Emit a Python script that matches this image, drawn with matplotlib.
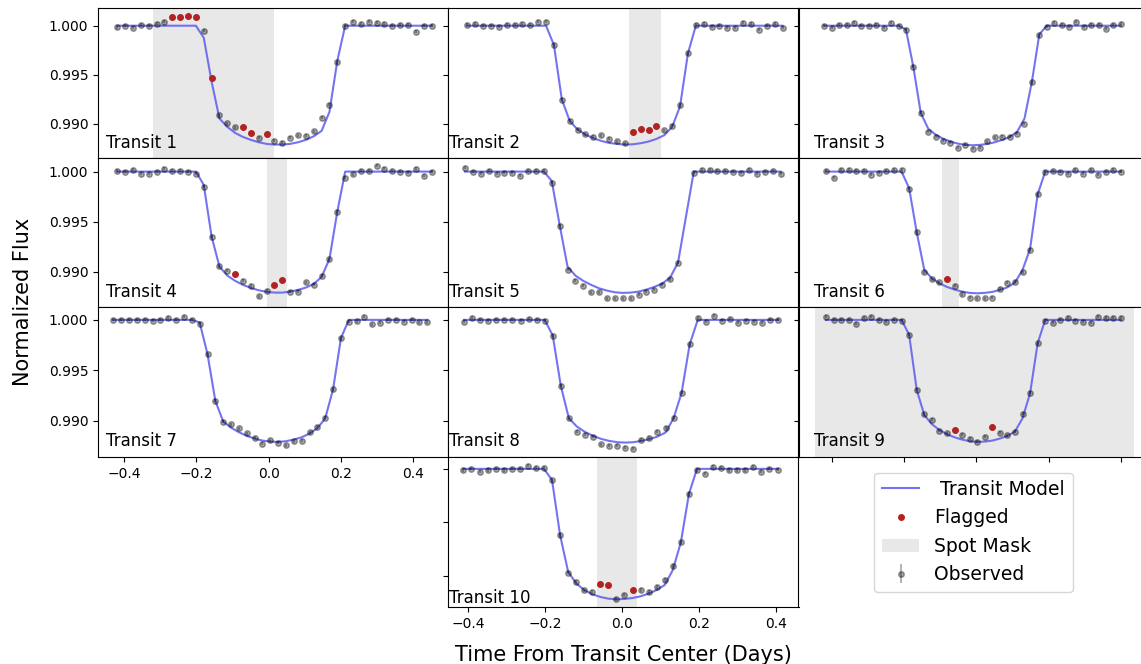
import numpy as np
import matplotlib
matplotlib.use('Agg')
import matplotlib.pyplot as plt

# time grids (days from transit centre), read from first/last point of each panel
time1 = np.linspace(-0.4185, 0.451, 41)
time2 = np.linspace(-0.403, 0.418, 41)
time3 = np.linspace(-0.421, 0.400, 41)
time4 = np.linspace(-0.4185, 0.451, 41)
time5 = np.delete(np.linspace(-0.409, 0.413, 41), 28)
time6 = np.linspace(-0.4166, 0.400, 40)
time7 = np.linspace(-0.4296, 0.439, 41)
time8 = np.linspace(-0.411, 0.407, 40)
time9 = np.linspace(-0.4166, 0.400, 40)
time10 = np.linspace(-0.413, 0.405, 40)

flux1 = [0.99983, 1.0000, 0.9998, 1.0001, 1.0000, 1.0002, 1.0004, 1.0009, 1.0009, 1.0010, 1.0009,
         0.9995, 0.99461, 0.99085, 0.99003, 0.98962, 0.98962, 0.98908, 0.98857, 0.98894, 0.98826,
         0.98802, 0.98857, 0.98881, 0.98874, 0.98922, 0.99058, 0.99191, 0.99628, 1.0000, 1.0004,
         1.0002, 1.0004, 1.0003, 1.0002, 1.0000, 1.0001, 1.0001, 0.9994, 1.0000, 1.0000]
model1 = [1.0, 1.0, 1.0, 1.0, 1.0, 1.0, 1.0, 1.0, 1.0, 1.0, 1.0,
          0.99877, 0.99427, 0.99051, 0.98966, 0.98904, 0.98863, 0.98833, 0.98809, 0.98792, 0.98785,
          0.98785, 0.98792, 0.98809, 0.98833, 0.98870, 0.98925, 0.99120, 0.99642, 1.0, 1.0,
          1.0, 1.0, 1.0, 1.0, 1.0, 1.0, 1.0, 1.0, 1.0, 1.0]

flux2 = [1.0001, 1.0002, 1.0000, 1.0000, 0.9999, 1.0001, 1.0001, 1.0002, 1.0001, 1.0004, 1.0004,
         0.99805, 0.99242, 0.99027, 0.98935, 0.98891, 0.98863, 0.98881, 0.98846, 0.98819, 0.98799,
         0.98918, 0.98945, 0.98932, 0.98973, 0.98932, 0.98980, 0.99188, 0.99717, 1.0001, 1.0002,
         0.9999, 1.0000, 0.9998, 0.9998, 1.0003, 1.0002, 0.9996, 1.0000, 1.0002, 0.9998]
model2 = [1.0, 1.0, 1.0, 1.0, 1.0, 1.0, 1.0, 1.0, 1.0, 1.0, 1.0,
          0.99802, 0.99246, 0.99027, 0.98939, 0.98887, 0.98850, 0.98823, 0.98802, 0.98792, 0.98785,
          0.98788, 0.98799, 0.98816, 0.98843, 0.98881, 0.98966, 0.99177, 0.99717, 1.0, 1.0,
          1.0, 1.0, 1.0, 1.0, 1.0, 1.0, 1.0, 1.0, 1.0, 1.0]

flux3 = [1.0000, 0.9998, 1.0001, 1.0001, 1.0003, 1.0000, 1.0000, 1.0001, 0.9998, 1.0003, 1.0000,
         0.9996, 0.99580, 0.99109, 0.98915, 0.98863, 0.98823, 0.98802, 0.98751, 0.98785, 0.98741,
         0.98751, 0.98819, 0.98860, 0.98863, 0.98863, 0.98894, 0.98997, 0.99420, 0.99904, 0.9999,
         1.0003, 1.0001, 0.9999, 1.0004, 0.9999, 1.0001, 1.0001, 0.9997, 1.0001, 1.0002]
model3 = [1.0, 1.0, 1.0, 1.0, 1.0, 1.0, 1.0, 1.0, 1.0, 1.0, 1.0,
          0.99962, 0.99580, 0.99109, 0.98949, 0.98887, 0.98846, 0.98816, 0.98795, 0.98782, 0.98778,
          0.98782, 0.98792, 0.98809, 0.98833, 0.98863, 0.98915, 0.99051, 0.99427, 0.99911, 1.0,
          1.0, 1.0, 1.0, 1.0, 1.0, 1.0, 1.0, 1.0, 1.0, 1.0]

flux4 = [1.0001, 1.0000, 1.0002, 0.9998, 0.9998, 1.0000, 1.0003, 1.0001, 1.0001, 1.0000, 0.9998,
         0.9985, 0.99347, 0.99053, 0.99010, 0.98973, 0.98907, 0.98857, 0.98753, 0.98810, 0.98870,
         0.98917, 0.98800, 0.98800, 0.98893, 0.98867, 0.98960, 0.99123, 0.99600, 0.99940, 0.99973,
         1.0001, 1.0001, 1.0006, 1.0003, 1.0001, 1.0000, 0.9999, 1.0003, 0.9996, 1.0000]
model4 = [1.0, 1.0, 1.0, 1.0, 1.0, 1.0, 1.0, 1.0, 1.0, 1.0, 1.0,
          0.99867, 0.99350, 0.99050, 0.98960, 0.98907, 0.98867, 0.98837, 0.98813, 0.98797, 0.98790,
          0.98790, 0.98800, 0.98817, 0.98840, 0.98877, 0.98947, 0.99127, 0.99600, 1.0, 1.0,
          1.0, 1.0, 1.0, 1.0, 1.0, 1.0, 1.0, 1.0, 1.0, 1.0]

flux5 = [1.0004, 1.0000, 0.9998, 1.0001, 0.9998, 0.9999, 0.9999, 0.9996, 1.0001, 1.0001, 1.0001,
         0.9989, 0.99457, 0.99017, 0.98907, 0.98857, 0.98793, 0.98793, 0.98733, 0.98733, 0.98733,
         0.98733, 0.98767, 0.98800, 0.98817, 0.98867, 0.98923, 0.99090, 0.9999, 1.0002,
         1.0002, 1.0001, 1.0001, 1.0000, 0.9999, 1.0002, 0.9998, 1.0000, 1.0001, 0.9998]
model5 = [1.0, 1.0, 1.0, 1.0, 1.0, 1.0, 1.0, 1.0, 1.0, 1.0, 1.0,
          0.99907, 0.99467, 0.99050, 0.98960, 0.98907, 0.98867, 0.98833, 0.98810, 0.98793, 0.98787,
          0.98790, 0.98800, 0.98820, 0.98847, 0.98880, 0.98940, 0.99090, 1.0, 1.0,
          1.0, 1.0, 1.0, 1.0, 1.0, 1.0, 1.0, 1.0, 1.0, 1.0]

flux6 = [1.0001, 0.9994, 1.0002, 1.0002, 1.0001, 1.0001, 0.9997, 0.9999, 1.0001, 1.0002, 1.0002,
         0.9983, 0.99393, 0.98993, 0.98923, 0.98893, 0.98927, 0.98860, 0.98773, 0.98740, 0.98733,
         0.98733, 0.98740, 0.98827, 0.98887, 0.98897, 0.98993, 0.99217, 0.99773, 1.0000, 1.0001,
         1.0000, 0.9998, 1.0002, 0.9998, 1.0002, 0.9997, 1.0000, 1.0002, 1.0000]
model6 = [1.0, 1.0, 1.0, 1.0, 1.0, 1.0, 1.0, 1.0, 1.0, 1.0, 1.0,
          0.99833, 0.99393, 0.99017, 0.98933, 0.98883, 0.98847, 0.98820, 0.98800, 0.98787, 0.98783,
          0.98787, 0.98797, 0.98817, 0.98843, 0.98890, 0.99017, 0.99227, 0.99773, 1.0, 1.0,
          1.0, 1.0, 1.0, 1.0, 1.0, 1.0, 1.0, 1.0, 1.0]

flux7 = [1.0000, 1.0000, 1.0000, 1.0000, 1.0000, 0.9999, 1.0000, 1.0002, 1.0000, 1.0003, 1.0000,
         0.99964, 0.99659, 0.99195, 0.98990, 0.98964, 0.98924, 0.98874, 0.98831, 0.98768, 0.98805,
         0.98781, 0.98755, 0.98795, 0.98801, 0.98884, 0.98937, 0.99030, 0.99311, 0.99818, 0.99983,
         0.99987, 1.0003, 0.99957, 0.99974, 1.0000, 1.0000, 0.99983, 1.0000, 0.99977, 0.99977]
model7 = [1.0, 1.0, 1.0, 1.0, 1.0, 1.0, 1.0, 1.0, 1.0, 1.0, 1.0,
          0.99975, 0.99659, 0.99195, 0.98990, 0.98930, 0.98884, 0.98848, 0.98821, 0.98801, 0.98791,
          0.98788, 0.98795, 0.98811, 0.98834, 0.98871, 0.98924, 0.99023, 0.99311, 0.99818, 1.0,
          1.0, 1.0, 1.0, 1.0, 1.0, 1.0, 1.0, 1.0, 1.0, 1.0]

flux8 = [0.9998, 1.0002, 1.0000, 0.9999, 1.0000, 1.0000, 1.0000, 0.9999, 1.0001, 1.0000, 0.9999,
         0.99844, 0.99344, 0.99023, 0.98887, 0.98858, 0.98841, 0.98765, 0.98748, 0.98752, 0.98732,
         0.98722, 0.98811, 0.98831, 0.98887, 0.98930, 0.99026, 0.99278, 0.99758, 1.0002, 0.9998,
         1.0004, 0.9999, 1.0001, 0.9997, 0.9999, 0.9998, 0.9997, 1.0000, 1.0000]
model8 = [1.0, 1.0, 1.0, 1.0, 1.0, 1.0, 1.0, 1.0, 1.0, 1.0, 1.0,
          0.99844, 0.99344, 0.99023, 0.98940, 0.98887, 0.98848, 0.98818, 0.98798, 0.98785, 0.98781,
          0.98785, 0.98798, 0.98815, 0.98841, 0.98881, 0.99023, 0.99278, 0.99758, 1.0, 1.0,
          1.0, 1.0, 1.0, 1.0, 1.0, 1.0, 1.0, 1.0, 1.0]

flux9 = [1.0003, 1.0000, 1.0000, 1.0000, 0.9996, 1.0002, 1.0003, 1.0000, 0.9998, 1.0000, 0.9999,
         0.99851, 0.99305, 0.99063, 0.99007, 0.98901, 0.98874, 0.98907, 0.98861, 0.98821, 0.98791,
         0.98838, 0.98934, 0.98881, 0.98854, 0.98887, 0.99066, 0.99278, 0.99768, 0.9999, 0.9997,
         1.0000, 1.0002, 0.9999, 0.9998, 0.9997, 1.0003, 1.0002, 1.0002, 1.0002]
model9 = [1.0, 1.0, 1.0, 1.0, 1.0, 1.0, 1.0, 1.0, 1.0, 1.0, 1.0,
          0.99851, 0.99305, 0.99056, 0.98964, 0.98907, 0.98864, 0.98834, 0.98811, 0.98795, 0.98788,
          0.98791, 0.98801, 0.98821, 0.98848, 0.98891, 0.99023, 0.99272, 0.99768, 1.0, 1.0,
          1.0, 1.0, 1.0, 1.0, 1.0, 1.0, 1.0, 1.0, 1.0]

flux10 = [0.99988, 1.0000, 0.99975, 0.9999, 1.0000, 0.9999, 1.0000, 1.0000, 1.0003, 1.0001, 1.0001,
          0.99894, 0.99383, 0.99031, 0.98947, 0.98866, 0.98854, 0.98922, 0.98919, 0.98785, 0.98826,
          0.98872, 0.98869, 0.98850, 0.98897, 0.98963, 0.99093, 0.99315, 0.99766, 0.99988, 0.99956,
          1.0002, 1.0001, 0.9999, 0.9999, 0.9999, 1.0002, 0.99975, 1.0000, 0.99994]
model10 = [1.0, 1.0, 1.0, 1.0, 1.0, 1.0, 1.0, 1.0, 1.0, 1.0, 1.0,
           0.99897, 0.99383, 0.99040, 0.98931, 0.98869, 0.98829, 0.98804, 0.98788, 0.98782, 0.98785,
           0.98794, 0.98810, 0.98835, 0.98869, 0.98916, 0.99056, 0.99315, 0.99766, 1.0, 1.0,
           1.0, 1.0, 1.0, 1.0, 1.0, 1.0, 1.0, 1.0, 1.0]

# indices of flagged points in each transit
flagged = [[7, 8, 9, 10, 12, 16, 17, 19], [21, 22, 23, 24], [], [15, 20, 21], [],
           [16], [], [], [17, 22], [17, 18, 21]]
# spot mask windows (days), None where no mask
spot_masks = [(-0.319, 0.015), (0.019, 0.101), None, (-0.004, 0.050), None,
              (-0.095, -0.049), None, None, (-0.447, 0.437), (-0.064, 0.038)]
flux_err = 0.00015

times = [time1, time2, time3, time4, time5, time6, time7, time8, time9, time10]
fluxes = [flux1, flux2, flux3, flux4, flux5, flux6, flux7, flux8, flux9, flux10]
models = [model1, model2, model3, model4, model5, model6, model7, model8, model9, model10]

W, H = 1141, 664
fig = plt.figure(figsize=(W / 100, H / 100), dpi=100)

col_left = [98, 447.5, 798.5]
col_w = [349.5, 351, 350]
row_top = [8, 157.6, 307.4, 457.2]
row_h = 149.8
xlims = [(-0.472, 0.495), (-0.4544, 0.4596), (-0.4928, 0.4767)]
ylims = [(0.98650, 1.00181), (0.98642, 1.00140), (0.98636, 1.00124), (0.98710, 1.00109)]

model_color = '#5c5cf0'
flag_color = '#b22222'

axes = []
for i in range(10):
    row, col = (i // 3, i % 3) if i < 9 else (3, 1)
    rect = [col_left[col] / W, 1 - (row_top[row] + row_h) / H, col_w[col] / W, row_h / H]
    ax = fig.add_axes(rect)
    axes.append(ax)

    t = np.asarray(times[i])
    f = np.asarray(fluxes[i])
    m = np.asarray(models[i])
    flag = np.zeros(len(t), dtype=bool)
    flag[flagged[i]] = True

    if spot_masks[i] is not None:
        span = ax.axvspan(*spot_masks[i], color='lightgray', alpha=0.5, lw=0, zorder=0)
    line, = ax.plot(t, m, color=model_color, alpha=0.85, lw=1.5, zorder=2)
    obs = ax.errorbar(t[~flag], f[~flag], yerr=flux_err, fmt='o', color='k', ms=4,
                      alpha=0.35, elinewidth=1.2, zorder=3)
    fl, = ax.plot(t[flag], f[flag], 'o', color=flag_color, ms=4, ls='none', zorder=4)
    if i == 0:
        leg_handles = [line, fl, span, obs]

    ax.text(-0.45, 0.9875, f'Transit {i + 1}', fontsize=12)
    ax.set_xlim(*xlims[col])
    ax.set_ylim(*ylims[row])
    ax.set_xticks([-0.4, -0.2, 0.0, 0.2, 0.4])
    ax.set_yticks([0.990, 0.995, 1.000])
    ax.ticklabel_format(axis='y', useOffset=False)
    if col != 0:
        ax.tick_params(labelleft=False)
    if i not in (6, 9):
        ax.tick_params(labelbottom=False)

axes[9].set_xlabel('Time From Transit Center (Days)', fontsize=15, labelpad=10)
fig.text(23 / W, 1 - 302 / H, 'Normalized Flux', rotation=90, fontsize=15,
         ha='center', va='center')

leg_ax = fig.add_axes([col_left[2] / W, 1 - (row_top[3] + row_h) / H, col_w[2] / W, row_h / H])
leg_ax.axis('off')
leg_ax.legend(leg_handles, [' Transit Model', 'Flagged', 'Spot Mask', 'Observed'],
              loc='center', fontsize=13.5)

fig.savefig('out.png', dpi=100)
